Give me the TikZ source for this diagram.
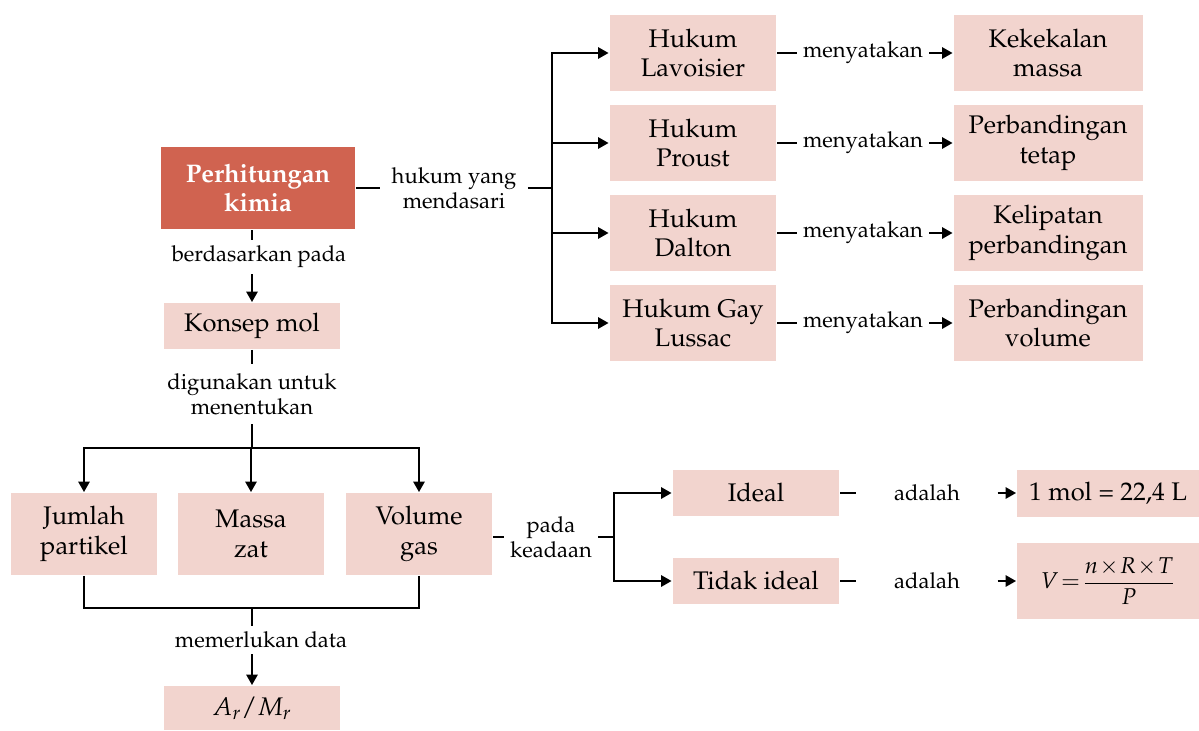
\documentclass[tikz,border=0pt]{standalone}
\usepackage[T1]{fontenc}
\usepackage{mathpazo}
\usepackage{amsmath}
\usepackage{xcolor}
\usepackage{tikz}
\usetikzlibrary{arrows.meta,positioning}
\definecolor{softpink}{RGB}{242,212,206}
\definecolor{brick}{RGB}{208,99,80}

\begin{document}
\begin{tikzpicture}[x=0.02cm,y=-0.02cm,>={Stealth[length=6pt,width=6.5pt,inset=0pt]},line width=1.1pt]
  \tikzstyle{box}=[rectangle,fill=softpink,inner sep=0pt,align=center,font=\fontsize{14.5}{17}\selectfont]
  \tikzstyle{lawbox}=[box,minimum width=3.34cm,minimum height=1.52cm]
  \tikzstyle{factbox}=[box,minimum width=3.78cm,minimum height=1.52cm]
  \tikzstyle{qtybox}=[box,minimum width=2.92cm,minimum height=1.64cm]
  \tikzstyle{lbl}=[inner sep=3pt,align=center,font=\fontsize{12.5}{14}\selectfont]
  \useasboundingbox (0,0) rectangle (1199,730);
  % pusat
  \node[box,fill=brick,text=white,font=\bfseries\fontsize{14.5}{17}\selectfont,minimum width=3.88cm,minimum height=1.66cm] (perhit) at (258,188) {Perhitungan\\kimia};
  % hukum dasar
  \node[lawbox] (lav) at (693,53) {Hukum\\Lavoisier};
  \node[lawbox] (proust) at (693,143) {Hukum\\Proust};
  \node[lawbox] (dalton) at (693,233) {Hukum\\Dalton};
  \node[lawbox] (gay) at (693,323) {Hukum Gay\\Lussac};
  \node[factbox] (kekal) at (1048,53) {Kekekalan\\massa};
  \node[factbox] (tetap) at (1048,143) {Perbandingan\\tetap};
  \node[factbox] (lipat) at (1048,233) {Kelipatan\\perbandingan};
  \node[factbox] (pvol) at (1048,323) {Perbandingan\\volume};
  \node[lbl] (lblLav) at (863,53) {menyatakan};
  \node[lbl] (lblPro) at (863,143) {menyatakan};
  \node[lbl] (lblDal) at (863,233) {menyatakan};
  \node[lbl] (lblGay) at (863,323) {menyatakan};
  \node[lbl,inner xsep=6pt] (lblHuk) at (454,188) {hukum yang\\mendasari};
  \coordinate (jHuk) at (552,188);
  \draw (perhit) -- (lblHuk);
  \draw (lblHuk) -- (jHuk);
  \draw[->] (jHuk) |- (lav);
  \draw[->] (jHuk) |- (proust);
  \draw[->] (jHuk) |- (dalton);
  \draw[->] (jHuk) |- (gay);
  \draw (lav) -- (lblLav);
  \draw[->] (lblLav) -- (kekal);
  \draw (proust) -- (lblPro);
  \draw[->] (lblPro) -- (tetap);
  \draw (dalton) -- (lblDal);
  \draw[->] (lblDal) -- (lipat);
  \draw (gay) -- (lblGay);
  \draw[->] (lblGay) -- (pvol);
  % konsep mol
  \node[box,minimum width=3.52cm,minimum height=0.92cm] (konsep) at (252,326) {Konsep mol};
  \node[lbl] (lblDas) at (259,257) {berdasarkan pada};
  \draw (konsep |- perhit.south) -- (konsep |- lblDas.north);
  \draw[->] (konsep |- lblDas.south) -- (konsep.north);
  \node[lbl,inner ysep=5pt] (lblGuna) at (252,394) {digunakan untuk\\menentukan};
  \draw (konsep.south) -- (lblGuna.north);
  % besaran
  \node[qtybox] (jumlah) at (84,534) {Jumlah\\partikel};
  \node[qtybox] (massa) at (251,534) {Massa\\zat};
  \node[qtybox] (volume) at (419,534) {Volume\\gas};
  \coordinate (jGuna) at (252,448);
  \draw (lblGuna.south) -- (jGuna);
  \draw[->] (jGuna) -| (jumlah);
  \draw[->] (jGuna) -- (jGuna -| massa) -- (massa);
  \draw[->] (jGuna) -| (volume);
  \node[box,minimum width=3.52cm,minimum height=0.88cm] (armr) at (252,708) {$A_r/M_r$};
  \node[lbl] (lblData) at (261,640) {memerlukan data};
  \coordinate (jData) at (252,608);
  \draw (jumlah.south) |- (jData);
  \draw (volume.south) |- (jData);
  \draw (jData) -- (armr |- lblData.north);
  \draw[->] (armr |- lblData.south) -- (armr.north);
  % keadaan gas
  \node[box,minimum width=3.34cm,minimum height=0.92cm] (ideal) at (756,493) {Ideal};
  \node[box,minimum width=3.34cm,minimum height=0.92cm] (tidak) at (756,581) {Tidak ideal};
  \node[box,minimum width=3.64cm,minimum height=0.94cm] (mol) at (1108,493) {1 mol = 22,4 L};
  \node[box,minimum width=3.64cm,minimum height=1.52cm,font=\fontsize{13}{15}\selectfont] (rumus) at (1108,581)
    {\thickmuskip=2mu \medmuskip=1mu $V=\dfrac{n\times R\times T}{P}$};
  \node[lbl] (lblKead) at (551,537) {pada\\keadaan};
  \coordinate (jKead) at (614,537);
  \draw (volume.east |- lblKead.west) -- (lblKead.west);
  \draw (lblKead.east) -- (jKead);
  \draw[->] (jKead) |- (ideal);
  \draw[->] (jKead) |- (tidak);
  \node[lbl,inner xsep=21pt] (lblIdeal) at (927,493) {adalah};
  \node[lbl,inner xsep=21pt] (lblTidak) at (927,581) {adalah};
  \draw (ideal) -- (lblIdeal);
  \draw[->] (lblIdeal) -- (mol);
  \draw (tidak) -- (lblTidak);
  \draw[->] (lblTidak) -- (rumus);
\end{tikzpicture}
\end{document}
